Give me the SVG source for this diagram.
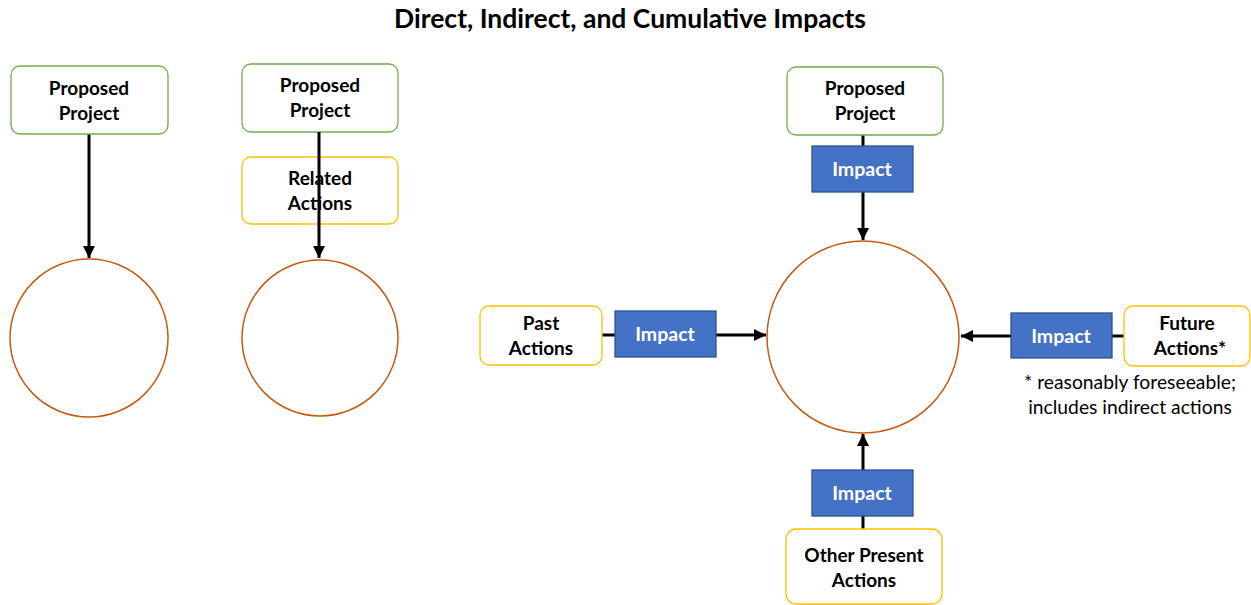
<svg xmlns="http://www.w3.org/2000/svg" width="1251" height="605" viewBox="0 0 1251 605">
  <style>
    .title { font-family: Lato, "Open Sans", "Liberation Sans", sans-serif; font-weight: bold; font-size: 26.5px; fill: #000; }
    .lbl { font-family: Lato, "Open Sans", "Liberation Sans", sans-serif; font-weight: bold; font-size: 19px; fill: #000; text-anchor: middle; }
    .imp { font-family: Lato, "Open Sans", "Liberation Sans", sans-serif; font-weight: bold; font-size: 19.5px; fill: #fff; text-anchor: middle; }
    .note { font-family: Lato, "Open Sans", "Liberation Sans", sans-serif; font-size: 19.3px; fill: #000; text-anchor: middle; }
    .proj { fill: #fff; stroke: #70AD47; stroke-width: 1.3; }
    .act { fill: #fff; stroke: #FFC000; stroke-width: 1.3; }
    .impbox { fill: #4472C4; stroke: #2F528F; stroke-width: 1.3; }
    .res { fill: #fff; stroke: #C55A11; stroke-width: 1.5; }
    .wire { stroke: #000; stroke-width: 3; fill: none; }
    .arrow { stroke: #000; stroke-width: 3; fill: none; marker-end: url(#head); }
  </style>
  <defs>
    <marker id="head" viewBox="0 0 10 10" refX="10" refY="5" markerWidth="4" markerHeight="4" markerUnits="strokeWidth" orient="auto">
      <path d="M0,0 L10,5 L0,10 z" fill="#000"/>
    </marker>
  </defs>

  <rect width="1251" height="605" fill="#fff"/>

  <text class="title" x="630" y="28" text-anchor="middle">Direct, Indirect, and Cumulative Impacts</text>

  <!-- resource circles -->
  <g id="resource-direct"><circle class="res" cx="89" cy="338" r="79"/></g>
  <g id="resource-indirect"><circle class="res" cx="320" cy="338" r="78"/></g>
  <g id="resource-cumulative"><circle class="res" cx="863" cy="337" r="96"/></g>

  <!-- connectors -->
  <g id="connectors">
    <line class="arrow" x1="89" y1="134" x2="89" y2="258"/>
    <line class="arrow" x1="863" y1="192" x2="863" y2="240"/>
    <line class="wire" x1="863" y1="135" x2="863" y2="146"/>
    <line class="wire" x1="602" y1="335" x2="615" y2="335"/>
    <line class="arrow" x1="716" y1="335" x2="766" y2="335"/>
    <line class="wire" x1="1112" y1="336" x2="1124" y2="336"/>
    <line class="arrow" x1="1011" y1="336" x2="961" y2="336"/>
    <line class="wire" x1="863" y1="516" x2="863" y2="529"/>
    <line class="arrow" x1="863" y1="470" x2="863" y2="434"/>
  </g>

  <!-- direct -->
  <g id="proposed-project-1">
    <rect class="proj" x="11" y="66" width="157" height="68" rx="9"/>
    <text class="lbl" x="89" y="95">Proposed</text>
    <text class="lbl" x="89" y="120">Project</text>
  </g>

  <!-- indirect -->
  <g id="proposed-project-2">
    <rect class="proj" x="242" y="64" width="156" height="68" rx="9"/>
    <text class="lbl" x="320" y="92">Proposed</text>
    <text class="lbl" x="320" y="117">Project</text>
  </g>
  <g id="related-actions">
    <rect class="act" x="242" y="157" width="156" height="67" rx="9"/>
    <text class="lbl" x="320" y="185">Related</text>
    <text class="lbl" x="320" y="210">Actions</text>
  </g>
  <g id="connector-indirect">
    <line class="arrow" x1="319" y1="132" x2="319" y2="258"/>
  </g>

  <!-- cumulative -->
  <g id="proposed-project-3">
    <rect class="proj" x="787" y="67" width="156" height="68" rx="9"/>
    <text class="lbl" x="865" y="95">Proposed</text>
    <text class="lbl" x="865" y="120">Project</text>
  </g>
  <g id="impact-top">
    <rect class="impbox" x="812" y="146" width="101" height="46"/>
    <text class="imp" x="862" y="176">Impact</text>
  </g>

  <g id="past-actions">
    <rect class="act" x="480" y="306" width="122" height="59" rx="9"/>
    <text class="lbl" x="541" y="330">Past</text>
    <text class="lbl" x="541" y="355">Actions</text>
  </g>
  <g id="impact-left">
    <rect class="impbox" x="615" y="311" width="101" height="46"/>
    <text class="imp" x="665" y="341">Impact</text>
  </g>

  <g id="future-actions">
    <rect class="act" x="1124" y="306" width="126" height="60" rx="9"/>
    <text class="lbl" x="1187" y="330">Future</text>
    <text class="lbl" x="1190" y="355">Actions*</text>
  </g>
  <g id="impact-right">
    <rect class="impbox" x="1011" y="313" width="101" height="45"/>
    <text class="imp" x="1061" y="343">Impact</text>
  </g>
  <g id="footnote">
    <text class="note" x="1130" y="389">* reasonably foreseeable;</text>
    <text class="note" x="1130" y="414">includes indirect actions</text>
  </g>

  <g id="impact-bottom">
    <rect class="impbox" x="812" y="470" width="101" height="46"/>
    <text class="imp" x="862" y="500">Impact</text>
  </g>
  <g id="other-present-actions">
    <rect class="act" x="786" y="529" width="156" height="75" rx="10"/>
    <text class="lbl" x="864" y="562">Other Present</text>
    <text class="lbl" x="864" y="587">Actions</text>
  </g>
</svg>
